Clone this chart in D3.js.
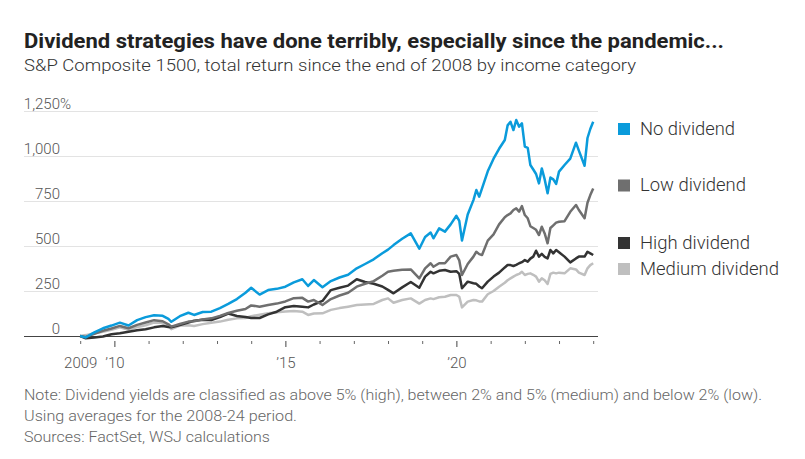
<!DOCTYPE html>
<html><head><meta charset="utf-8">
<script src="https://cdn.jsdelivr.net/npm/d3@7"></script>
<style>
body{margin:0;background:#fff;}
svg{display:block;}
text{font-family:Roboto,"Liberation Sans Narrow","DejaVu Sans Condensed",sans-serif;}
</style></head><body>
<svg id="chart" width="805" height="459"></svg>
<script>
const dates=["2009-01","2009-03","2009-06","2009-09","2009-12","2010-03","2010-06","2010-09","2010-12",
"2011-03","2011-06","2011-08","2011-09","2011-12","2012-03","2012-05","2012-08","2012-11",
"2013-02","2013-05","2013-08","2013-11","2014-01","2014-04","2014-07","2014-10",
"2015-01","2015-04","2015-07","2015-09","2015-11","2016-02","2016-05","2016-08","2016-11",
"2017-02","2017-05","2017-08","2017-11","2018-01","2018-03","2018-06","2018-09","2018-12",
"2019-02","2019-04","2019-05","2019-07","2019-09","2019-11",
"2020-01","2020-02","2020-03","2020-05","2020-07","2020-08","2020-09","2020-10","2020-12",
"2021-02","2021-04","2021-06","2021-07","2021-08","2021-09","2021-10","2021-11","2021-12",
"2022-01","2022-02","2022-03","2022-04","2022-05","2022-06","2022-07","2022-08","2022-09","2022-10","2022-11","2022-12",
"2023-01","2023-03","2023-05","2023-07","2023-08","2023-10","2023-11","2023-12","2024-01"];

const noDividend=[0,-8,20,43,58, 74,58,88,105, 115,112,95,79,110, 129,117,133,135, 155,178,205,240,
268,230,255,262, 274,298,315,278,311, 271,305,325,340, 376,400,426,460, 480,505,540,570,485,
550,575,543,598,580,620, 668,640,530,675,755,811,774,820,915,
985,1040,1089,1170,1190,1144,1200,1163,1181,
1052,1045,950,925,900,848,931,870,793,880,870,845,
913,950,985,1074,1030,946,1100,1150,1190];

const lowDividend=[0,-5,12,29,42, 56,43,62,75, 88,82,65,52,67, 80,82,92,98, 112,128,140,150,
170,163,172,180, 192,210,212,191,200, 172,205,225,240, 274,290,305,335, 357,362,368,370,320,
376,404,385,404,404,441, 450,420,339,400,441,468,455,450,530,
565,620,660,672,681,700,709,691,722,
672,654,610,600,590,561,607,570,515,600,615,630,
635,638,690,728,700,654,740,783,820];

const highDividend=[0,-13,-8,-3,10, 15,24,32,38, 48,55,50,48,61, 75,85,90,89, 105,125,111,106,
100,100,120,135, 160,167,162,159,175, 195,255,268,280, 315,300,290,275, 256,237,270,300,268,
330,357,348,362,367,357, 360,345,265,302,293,290,275,265,302,
330,352,381,394,394,389,395,404,410,
422,413,430,441,474,441,456,440,431,478,459,478,
465,441,409,431,441,441,468,459,450];

const mediumDividend=[0,5,15,24,35, 48,35,50,60, 75,72,55,38,58, 60,56,66,74, 80,90,98,100,
110,118,126,132, 136,139,135,117,125, 126,145,155,163, 172,175,178,200, 209,185,200,209,180,
200,209,205,215,218,228, 228,218,159,191,200,198,192,191,232,
250,274,296,310,320,330,339,345,357,
339,345,348,340,330,302,320,310,289,345,352,348,
352,348,376,370,352,339,376,394,404];

const seriesNames=["No dividend","Low dividend","High dividend","Medium dividend"];
const seriesColors=["#0a9bdb","#6f6f6f","#333333","#bfbfbf"];
const yTicks=[0,250,500,750,1000,1250];
const xTickYears=d3.range(2009,2025);
const majorYears=[2010,2015,2020];
const xLabels={2009:"2009",2010:"\u201910",2015:"\u201915",2020:"\u201920"};
const titleText="Dividend strategies have done terribly, especially since the pandemic...";
const subtitleText="S&P Composite 1500, total return since the end of 2008 by income category";
const noteLines=["Note: Dividend yields are classified as above 5% (high), between 2% and 5% (medium) and below 2% (low).",
"Using averages for the 2008-24 period.",
"Sources: FactSet, WSJ calculations"];

const parse=d3.timeParse("%Y-%m");
const seriesValues=[noDividend,lowDividend,highDividend,mediumDividend];
const svg=d3.select("#chart");

const x=d3.scaleTime().domain([new Date(2009,0,1),new Date(2024,0,1)]).range([80.2,593.2]);
const y=d3.scaleLinear().domain([0,1250]).range([336,111]);
const gridLeft=24, gridRight=598;

// title
svg.append("text").attr("x",24).attr("y",48).attr("font-size",21).attr("font-weight","bold")
  .attr("fill","#222").attr("textLength",700).attr("lengthAdjust","spacingAndGlyphs").text(titleText);
svg.append("text").attr("x",24).attr("y",71).attr("font-size",16.5).attr("font-weight",300)
  .attr("fill","#333").attr("textLength",612).attr("lengthAdjust","spacingAndGlyphs").text(subtitleText);

// y axis with gridlines
const yAxis=d3.axisLeft(y).tickValues(yTicks).tickSize(-(gridRight-gridLeft)).tickFormat(d3.format(","));
const gy=svg.append("g").attr("transform",`translate(${gridLeft},0)`).call(yAxis);
gy.select(".domain").remove();
gy.selectAll(".tick line").attr("stroke",d=>d===0?"none":"#e3e3e3").attr("stroke-width",1);
gy.selectAll(".tick text").attr("x",36).attr("dy",0).attr("y",-3).attr("text-anchor","end")
  .attr("font-size",15).attr("font-weight",300).attr("fill","#555");
gy.selectAll(".tick").filter(d=>d===1250).append("text").attr("x",36).attr("y",-3)
  .attr("text-anchor","start").attr("font-size",15).attr("font-weight",300).attr("fill","#555").text("%");

// x axis
const xAxis=d3.axisBottom(x).tickValues(xTickYears.map(yr=>new Date(yr,0,1))).tickSize(0)
  .tickFormat(d=>xLabels[d.getFullYear()]||"");
const gx=svg.append("g").attr("transform","translate(0,336)").call(xAxis);
gx.select(".domain").remove();
gx.selectAll(".tick line").attr("y1",5).attr("y2",d=>majorYears.includes(d.getFullYear())?11:8)
  .attr("stroke",d=>majorYears.includes(d.getFullYear())?"#444":"#666").attr("stroke-width",1);
gx.selectAll(".tick text").attr("y",32).attr("dy",0).attr("font-size",15).attr("font-weight",300).attr("fill","#555");
svg.append("line").attr("x1",gridLeft).attr("x2",gridRight).attr("y1",336.5).attr("y2",336.5)
  .attr("stroke","#444").attr("stroke-width",1);

// lines
const line=d3.line().x((d,i)=>x(parse(dates[i]))).y(d=>y(d));
[3,2,1,0].forEach(k=>{
  svg.append("path").datum(seriesValues[k]).attr("d",line).attr("fill","none")
    .attr("stroke",seriesColors[k]).attr("stroke-width",2.5).attr("stroke-linejoin","round");
});

// legend
const legendY=[129,185.5,243,269];
const legendW=[95,106,110,139];
seriesNames.forEach((n,i)=>{
  svg.append("rect").attr("x",618).attr("y",legendY[i]-6).attr("width",12).attr("height",12).attr("fill",seriesColors[i]);
  svg.append("text").attr("x",640).attr("y",legendY[i]+5.5).attr("font-size",18).attr("font-weight",300).attr("fill","#333")
    .attr("textLength",legendW[i]).attr("lengthAdjust","spacingAndGlyphs").text(n);
});

// notes
const noteW=[738,273,246];
noteLines.forEach((t,i)=>{
  svg.append("text").attr("x",24).attr("y",400+i*21).attr("font-size",14.5).attr("font-weight",300).attr("fill","#666")
    .attr("textLength",noteW[i]).attr("lengthAdjust","spacingAndGlyphs").text(t);
});
</script>
</body></html>
